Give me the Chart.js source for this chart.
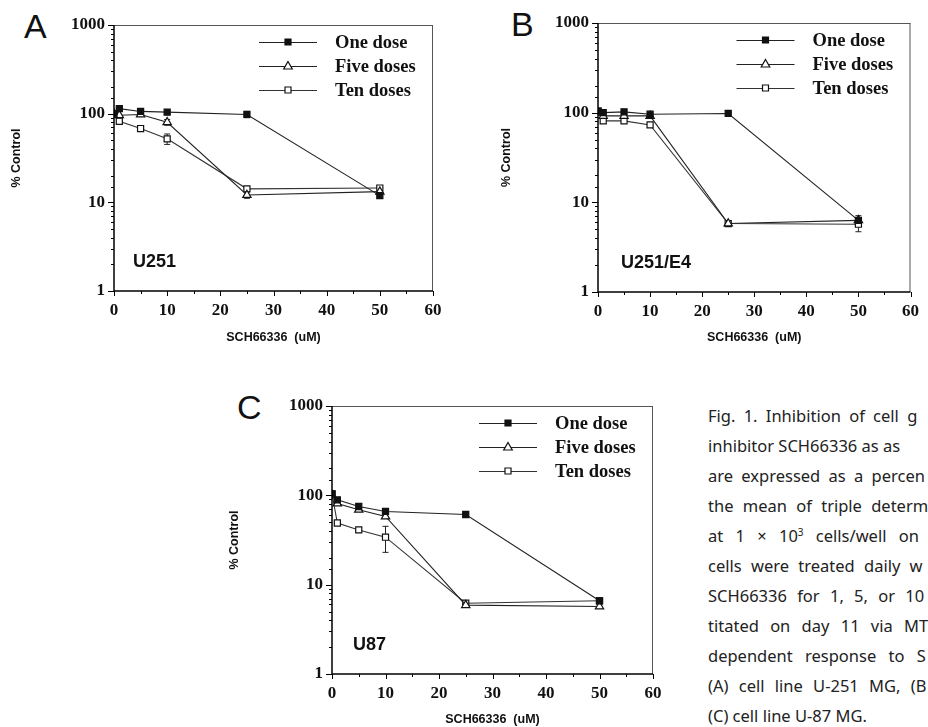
<!DOCTYPE html>
<html>
<head>
<meta charset="utf-8">
<script src="https://cdn.jsdelivr.net/npm/chart.js@4.4.1/dist/chart.umd.min.js"></script>
<style>
  html, body { margin: 0; padding: 0; background: #fff; }
  body { width: 928px; height: 727px; position: relative; overflow: hidden; }
  canvas { position: absolute; }
  .letter { position: absolute; font-family: "Liberation Sans", Arial, sans-serif; font-size: 34px; line-height: 34px; color: #111; }
  #caption { position: absolute; left: 708px; top: 401px; width: 220px; overflow: hidden; white-space: nowrap;
             font-family: "Noto Sans", sans-serif; font-size: 16.5px; line-height: 30px; color: #222; }
  #caption div { height: 30px; }
  #caption sup { font-size: 10px; line-height: 0; }
</style>
</head>
<body>

<div class="letter" style="left:24px; top:9px;">A</div>
<div class="letter" style="left:511px; top:7px;">B</div>
<div class="letter" style="left:237px; top:390px;">C</div>

<canvas id="chartA" width="465" height="345" style="left:0px; top:0px;"></canvas>
<canvas id="chartB" width="438" height="345" style="left:490px; top:0px;"></canvas>
<canvas id="chartC" width="472" height="387" style="left:218px; top:340px;"></canvas>

<div id="caption">
  <div style="word-spacing:4px">Fig. 1. Inhibition of cell g</div>
  <div style="word-spacing:0px">inhibitor SCH66336 as as</div>
  <div style="word-spacing:4px">are expressed as a percen</div>
  <div style="word-spacing:5px">the mean of triple determ</div>
  <div style="word-spacing:8px">at 1 × 10<sup>3</sup> cells/well on</div>
  <div style="word-spacing:5px">cells were treated daily w</div>
  <div style="word-spacing:6px">SCH66336 for 1, 5, or 10</div>
  <div style="word-spacing:7px">titated on day 11 via MT</div>
  <div style="word-spacing:8px">dependent response to S</div>
  <div style="word-spacing:6px">(A) cell line U-251 MG, (B</div>
  <div>(C) cell line U-87 MG.</div>
</div>

<script>
// SCH66336 concentrations (uM)
var doses = [0, 1, 5, 10, 25, 50];
var seriesNames = ['One dose', 'Five doses', 'Ten doses'];

// A - U251
var aOne  = [100, 114, 106, 104, 98, 11.9];
var aFive = [100, 96, 98, 80, 12.1, 13.2];
var aTen  = [100, 82, 68, 52, 14.2, 14.5];
var aOneErr  = [0, 0, 0, 0, 8, 0];
var aFiveErr = [0, 0, 0, 6, 1, 0];
var aTenErr  = [0, 0, 0, 7, 0, 0];

// B - U251/E4
var bOne  = [104, 100, 102, 96, 98, 6.3];
var bFive = [100, 92, 92, 92, 5.8, 6.3];
var bTen  = [104, 81, 81, 73, 5.8, 5.7];
var bOneErr  = [0, 0, 0, 0, 0, 0.8];
var bFiveErr = [0, 6, 6, 6, 0, 0];
var bTenErr  = [0, 0, 0, 0, 0, 1.0];

// C - U87
var cOne  = [104, 89, 75, 66, 61, 6.6];
var cFive = [100, 81, 69, 58, 5.9, 5.7];
var cTen  = [104, 49, 41, 34, 6.2, 6.6];
var cOneErr  = [0, 0, 0, 0, 3, 0];
var cFiveErr = [0, 0, 0, 0, 0, 0];
var cTenErr  = [0, 0, 0, 11, 0, 0];

var yTicks = [1, 10, 100, 1000];
var xTicks = [0, 10, 20, 30, 40, 50, 60];

var serifBold = { family: '"Liberation Serif", "DejaVu Serif", serif', weight: 'bold', size: 17 };
var sansBold = { family: '"Liberation Sans", Arial, sans-serif', weight: 'bold', size: 12.5 };

function points(values) {
    return doses.map(function (d, i) { return { x: d, y: values[i] }; });
}

var panelPlugin = {
    id: 'panel',
    beforeDatasetsDraw: function (chart) {
        var ctx = chart.ctx, xs = chart.scales.x, ys = chart.scales.y;
        ctx.save();
        ctx.strokeStyle = '#222';
        ctx.lineWidth = 1;
        chart.data.datasets.forEach(function (ds) {
            (ds.errors || []).forEach(function (e, i) {
                if (!e) return;
                var v = ds.data[i].y;
                var px = xs.getPixelForValue(ds.data[i].x);
                var top = ys.getPixelForValue(v + e), bot = ys.getPixelForValue(Math.max(v - e, 1));
                ctx.beginPath();
                ctx.moveTo(px, top); ctx.lineTo(px, bot);
                ctx.moveTo(px - 3, top); ctx.lineTo(px + 3, top);
                ctx.moveTo(px - 3, bot); ctx.lineTo(px + 3, bot);
                ctx.stroke();
            });
        });
        ctx.restore();
    },
    afterDraw: function (chart, args, opts) {
        var ctx = chart.ctx, a = chart.chartArea, xs = chart.scales.x, ys = chart.scales.y;
        ctx.save();
        // frame
        ctx.strokeStyle = '#555';
        ctx.lineWidth = 1;
        ctx.beginPath();
        ctx.moveTo(a.left, a.top + 0.5); ctx.lineTo(a.right, a.top + 0.5);
        ctx.moveTo(a.right - 0.5, a.top); ctx.lineTo(a.right - 0.5, a.bottom);
        ctx.stroke();
        ctx.strokeStyle = '#000';
        ctx.lineWidth = 1.5;
        ctx.beginPath();
        ctx.moveTo(a.left, a.top); ctx.lineTo(a.left, a.bottom); ctx.lineTo(a.right, a.bottom);
        ctx.stroke();
        // tick marks
        ctx.lineWidth = 1;
        ctx.beginPath();
        ys.ticks.forEach(function (t) {
            var py = Math.round(ys.getPixelForValue(t.value)) + 0.5;
            var len = yTicks.indexOf(t.value) >= 0 ? 6 : 3;
            ctx.moveTo(a.left - len, py); ctx.lineTo(a.left, py);
        });
        xs.ticks.forEach(function (t) {
            var px = Math.round(xs.getPixelForValue(t.value)) + 0.5;
            var len = xTicks.indexOf(t.value) >= 0 ? 5 : 3;
            ctx.moveTo(px, a.bottom); ctx.lineTo(px, a.bottom + len);
        });
        ctx.stroke();
        // legend
        ctx.font = 'bold 18.5px "Liberation Serif", "DejaVu Serif", serif';
        ctx.textBaseline = 'middle';
        ctx.textAlign = 'left';
        chart.data.datasets.forEach(function (ds, i) {
            var y = a.top + 17 + i * 24;
            var x1 = a.right - 174, x2 = a.right - 116, xm = a.right - 145;
            ctx.strokeStyle = ds.borderColor;
            ctx.lineWidth = 1;
            ctx.beginPath();
            ctx.moveTo(x1, y + 0.5); ctx.lineTo(x2, y + 0.5);
            ctx.stroke();
            ctx.fillStyle = ds.pointBackgroundColor;
            ctx.strokeStyle = ds.pointBorderColor;
            ctx.lineWidth = 1.2;
            ctx.beginPath();
            if (ds.pointStyle === 'triangle') {
                ctx.moveTo(xm, y - 4.5); ctx.lineTo(xm + 4.3, y + 3); ctx.lineTo(xm - 4.3, y + 3); ctx.closePath();
            } else {
                ctx.rect(xm - 3, y - 3, 6, 6);
            }
            ctx.fill(); ctx.stroke();
            ctx.fillStyle = '#111';
            ctx.fillText(ds.label, a.right - 98, y + 1);
        });
        // cell line label
        ctx.font = 'bold 18px "Liberation Sans", Arial, sans-serif';
        ctx.fillStyle = '#111';
        ctx.fillText(opts.label, a.left + opts.labelDx, a.bottom - 29);
        ctx.restore();
    }
};

function makePanel(id, one, five, ten, errs, label, layout) {
    var datasets = [
        { label: seriesNames[0], data: points(one), errors: errs[0], borderColor: '#222', pointStyle: 'rect',
          pointRadius: 4.3, pointBackgroundColor: '#111', pointBorderColor: '#111' },
        { label: seriesNames[1], data: points(five), errors: errs[1], borderColor: '#222', pointStyle: 'triangle',
          pointRadius: 4.8, pointBackgroundColor: '#fff', pointBorderColor: '#111' },
        { label: seriesNames[2], data: points(ten), errors: errs[2], borderColor: '#333', pointStyle: 'rect',
          pointRadius: 4.3, pointBackgroundColor: '#fff', pointBorderColor: '#111' }
    ];
    datasets.forEach(function (ds) { ds.borderWidth = 1.1; ds.pointBorderWidth = 1.2; ds.tension = 0; });

    return new Chart(document.getElementById(id).getContext('2d'), {
        type: 'line',
        data: { datasets: datasets },
        plugins: [panelPlugin],
        options: {
            responsive: false,
            animation: false,
            events: [],
            layout: { padding: { left: 0, top: layout.top, right: layout.right, bottom: 0 } },
            plugins: {
                legend: { display: false },
                tooltip: { enabled: false },
                panel: { label: label, labelDx: layout.labelDx }
            },
            scales: {
                x: {
                    type: 'linear', min: 0, max: 60,
                    grid: { display: false, drawTicks: false },
                    border: { display: false },
                    ticks: {
                        stepSize: 5, autoSkip: false, maxRotation: 0, padding: 9, color: '#111', font: serifBold,
                        callback: function (v) { return xTicks.indexOf(v) >= 0 ? String(v) : ''; }
                    },
                    title: { display: true, text: 'SCH66336  (uM)', color: '#111', font: sansBold, padding: { top: 0, bottom: 0 } },
                    afterFit: function (s) { s.height = layout.xH; }
                },
                y: {
                    type: 'logarithmic', min: 1, max: 1000,
                    grid: { display: false, drawTicks: false },
                    border: { display: false },
                    ticks: {
                        autoSkip: false, padding: 9, color: '#111', font: serifBold,
                        callback: function (v) { return yTicks.indexOf(v) >= 0 ? String(v) : ''; }
                    },
                    title: { display: true, text: '% Control', color: '#111', font: sansBold, padding: { top: 9, bottom: 0 } },
                    afterFit: function (s) { s.width = layout.yW; }
                }
            }
        }
    });
}

makePanel('chartA', aOne, aFive, aTen, [aOneErr, aFiveErr, aTenErr], 'U251',
    { top: 25, right: 32, xH: 54, yW: 114, labelDx: 19 });
makePanel('chartB', bOne, bFive, bTen, [bOneErr, bFiveErr, bTenErr], 'U251/E4',
    { top: 23, right: 11, xH: 53, yW: 108, labelDx: 23 });
makePanel('chartC', cOne, cFive, cTen, [cOneErr, cFiveErr, cTenErr], 'U87',
    { top: 66, right: 37, xH: 53, yW: 114, labelDx: 21 });
</script>
</body>
</html>
